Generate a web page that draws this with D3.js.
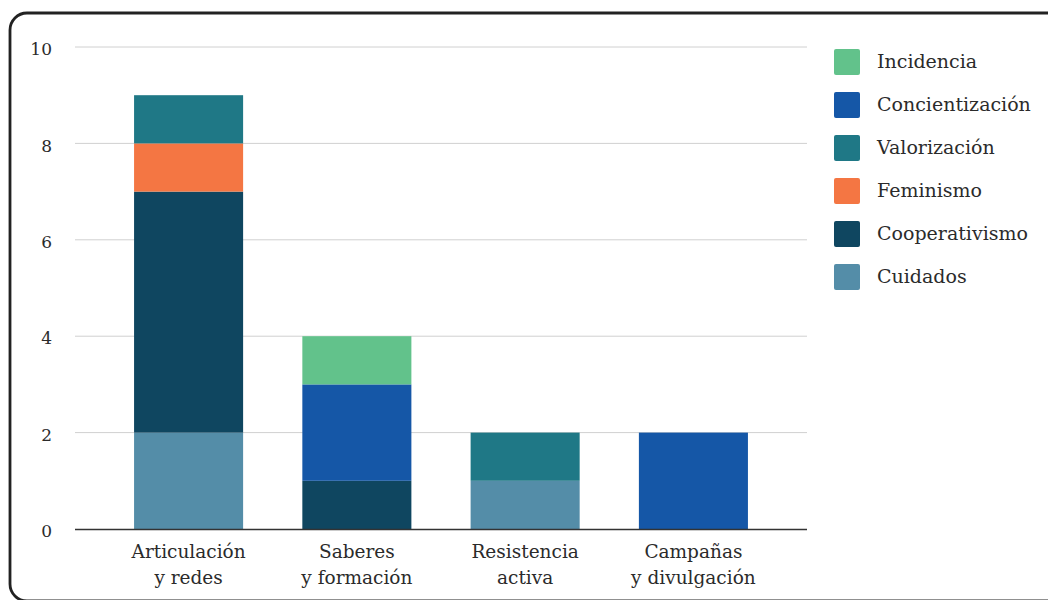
<!DOCTYPE html>
<html><head><meta charset="utf-8">
<script src="https://cdn.jsdelivr.net/npm/d3@7"></script>
<style>
html,body{margin:0;padding:0;background:#fff;}
svg{display:block;}
text{font-family:"DejaVu Serif",serif;fill:#2b2b2b;}
</style></head>
<body>
<svg id="c" width="1048" height="600"></svg>
<script>
const categories = [["Articulación","y redes"],["Saberes","y formación"],["Resistencia","activa"],["Campañas","y divulgación"]];
const seriesNames = ["Cuidados","Cooperativismo","Feminismo","Valorización","Concientización","Incidencia"];
const seriesColors = ["#548DA8","#0F4660","#F47643","#1F7886","#1557A7","#62C28B"];
const cuidados        = [2,0,1,0];
const cooperativismo  = [5,1,0,0];
const feminismo       = [1,0,0,0];
const valorizacion    = [1,0,1,0];
const concientizacion = [0,2,0,2];
const incidencia      = [0,1,0,0];
const yTicks = [0,2,4,6,8,10];
const legendOrder = ["Incidencia","Concientización","Valorización","Feminismo","Cooperativismo","Cuidados"];

const seriesValues = [cuidados,cooperativismo,feminismo,valorizacion,concientizacion,incidencia];
const rows = categories.map((c,i)=>{
  const r = {cat:c.join(" ")};
  seriesNames.forEach((s,j)=>r[s]=seriesValues[j][i]);
  return r;
});

const svg = d3.select("#c");
svg.append("rect").attr("x",10).attr("y",13).attr("width",1080).attr("height",588)
  .attr("rx",17).attr("fill","none").attr("stroke","#222").attr("stroke-width",2.8);

const x = d3.scaleBand().domain(rows.map(r=>r.cat)).range([75,807]).paddingInner(0.352).paddingOuter(0.351);
const y = d3.scaleLinear().domain([0,10]).range([529,47]);
const color = d3.scaleOrdinal().domain(seriesNames).range(seriesColors);

// grid
svg.append("g").selectAll("line").data(yTicks.filter(t=>t>0)).join("line")
  .attr("x1",75).attr("x2",807).attr("y1",d=>y(d)).attr("y2",d=>y(d))
  .attr("stroke","#d0d0d0").attr("stroke-width",1);

// y labels
const ya = svg.append("g").attr("transform","translate(52,0)")
  .call(d3.axisLeft(y).tickValues(yTicks).tickSize(0).tickPadding(0));
ya.select(".domain").remove();
ya.selectAll("text").style("font-family","'DejaVu Serif',serif").style("font-size","17px").attr("fill","#222").attr("dy","0.45em");

const stack = d3.stack().keys(seriesNames)(rows);
svg.append("g").selectAll("g").data(stack).join("g").attr("fill",d=>color(d.key))
  .selectAll("rect").data(d=>d.filter(p=>p[1]-p[0]>0)).join("rect")
  .attr("x",d=>x(d.data.cat)).attr("width",x.bandwidth())
  .attr("y",d=>y(d[1])).attr("height",d=>y(d[0])-y(d[1]));

// baseline
svg.append("line").attr("x1",75).attr("x2",807).attr("y1",y(0)+0.5).attr("y2",y(0)+0.5)
  .attr("stroke","#333").attr("stroke-width",1.5);

// x labels
const xl = svg.append("g");
categories.forEach((c,i)=>{
  const t = xl.append("text").attr("text-anchor","middle")
    .attr("x",x(rows[i].cat)+x.bandwidth()/2).attr("y",558)
    .style("font-size","18.5px");
  c.forEach((line,k)=>t.append("tspan").attr("x",x(rows[i].cat)+x.bandwidth()/2).attr("dy",k?26:0).text(line));
});

// legend
const lg = svg.append("g");
legendOrder.forEach((s,i)=>{
  const cy = 62 + i*43;
  lg.append("rect").attr("x",834).attr("y",cy-13).attr("width",26).attr("height",26).attr("rx",2).attr("fill",color(s));
  lg.append("text").attr("x",877).attr("y",cy+6).style("font-size","19px").text(s);
});
</script>
</body></html>
